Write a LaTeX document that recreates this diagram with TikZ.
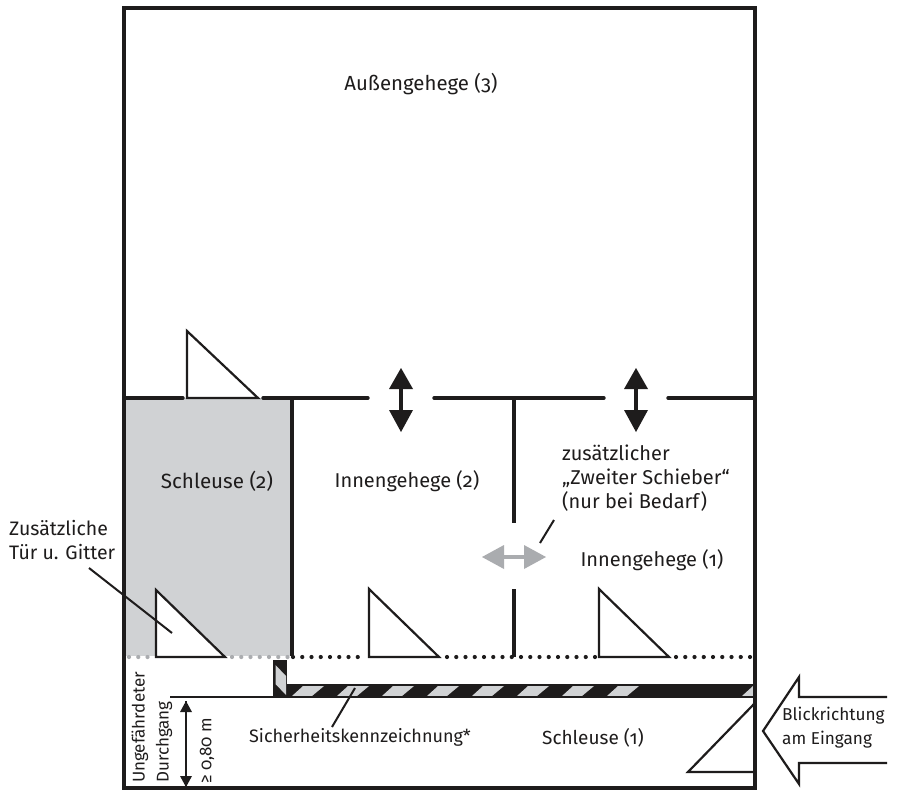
\documentclass[tikz,border=0pt]{standalone}
\usepackage{fontspec}
\setmainfont[Numbers=OldStyle]{Fira Sans}
\definecolor{lgrey}{RGB}{208,210,212}
\definecolor{mgrey}{RGB}{170,172,175}
\definecolor{ink}{RGB}{30,28,28}
\tikzset{
  wall/.style={draw=ink,line width=3.4pt,line cap=round},
  door/.style={draw=ink,line width=2.2pt,fill=white,line join=miter},
  dots/.style={draw=ink,line width=4.2pt,line cap=round,dash pattern=on 0pt off 9.25pt},
  greydots/.style={dots,draw=mgrey},
  thinl/.style={draw=ink,line width=2pt},
  arrowhead/.style={fill=ink,draw=none},
  label/.style={inner sep=0pt,text=ink,font=\fontsize{20}{24}\selectfont,align=center},
  leftlabel/.style={label,align=left},
  vlabel/.style={label,rotate=90,anchor=west},
  hazard/.style={fill=lgrey,draw=none}
}
\begin{document}
\begin{tikzpicture}[x=1pt,y=-1pt]
\useasboundingbox (0,0) rectangle (897,790);
\fill[white] (0,0) rectangle (897,790);
% grey lock
\fill[lgrey] (124,398) rectangle (292,656);
% barrier
\fill[ink] (273,660) rectangle (287,697);
\fill[ink] (287,683.5) rectangle (755,697.5);
\fill[hazard] (275.5,665) -- (286,676) -- (286,695) -- (275.5,684) -- cycle;
\foreach \k in {0,...,7}{
  \fill[hazard] ({292+45*\k},696) -- ({303+45*\k},686) -- ({324+45*\k},686) -- ({312+45*\k},696) -- cycle;
}
\fill[hazard] (742,696) -- (753,686) -- (753,696) -- cycle;
\draw[thinl] (170,697) -- (755,697);
% dotted line
\draw[greydots] (129,657) -- (152,657);
\draw[greydots] (232,657) -- (288,657);
\draw[dots] (293,657) -- (365,657);
\draw[dots] (447,657) -- (596,657);
\draw[dots] (676,657) -- (755,657);
% walls
\coordinate (tl) at (124,8); \coordinate (tr) at (755,8);
\coordinate (br) at (755,788); \coordinate (bl) at (124,788);
\draw[wall,line cap=butt,line join=miter] (tl) -- (tr) -- (br) -- (bl) -- cycle;
\draw[wall] (125,398) -- (183,398);
\draw[wall] (263,398) -- (368,398);
\draw[wall] (434,398) -- (604,398);
\draw[wall] (668,398) -- (755,398);
\draw[wall,line cap=butt] (292,398) -- (292,656);
\draw[wall,line cap=butt] (514,398) -- (514,523);
\draw[wall,line cap=butt] (514,589) -- (514,657);
% doors
\draw[door] (187,331) -- (187,398) -- (258,398) -- cycle;
\draw[door] (156,590) -- (156,657) -- (225,657) -- cycle;
\draw[door] (369,589) -- (369,657) -- (439,657) -- cycle;
\draw[door] (599,589) -- (599,657) -- (669,657) -- cycle;
\draw[door,fill=none] (754,704) -- (688,772) -- (754,772);
% double arrows
\foreach \x in {401,636}{
  \fill[arrowhead] (\x,368) -- ({\x+12},389) -- ({\x-12},389) -- cycle;
  \fill[arrowhead] (\x,432) -- ({\x+12},410) -- ({\x-12},410) -- cycle;
  \fill[arrowhead] ({\x-2},388) rectangle ({\x+2},411);
}
\fill[mgrey] (482,557) -- (504,545) -- (504,569) -- cycle;
\fill[mgrey] (546,557) -- (524,545) -- (524,569) -- cycle;
\fill[mgrey] (503,555) rectangle (525,559);
% dimension arrow
\coordinate (d1) at (186,701); \coordinate (d2) at (186,787);
\draw[thinl] (d1) -- (d2);
\fill[arrowhead] (d1) -- ++(6,11) -- ++(-12,0) -- cycle;
\fill[arrowhead] (d2) -- ++(6,-11) -- ++(-12,0) -- cycle;
% view arrow
\draw[draw=ink,line width=2.2pt,line join=miter] (887,697) -- (799,697) -- (799,677) -- (763,731) -- (799,784) -- (799,763) -- (887,763);
% labels
\node[label,font=\fontsize{20.4}{24}\selectfont] (aussen) at (421,84) {Außengehege (3)};
\node[label,font=\fontsize{20.6}{24}\selectfont] (schl2) at (217,481) {Schleuse (2)};
\node[label] (inn2) at (407,481) {Innengehege (2)};
\node[leftlabel,anchor=north west] (zweiter) at (562,445) {zusätzlicher\\„Zweiter Schieber“\\(nur bei Bedarf)};
\node[label] (inn1) at (652,560) {Innengehege (1)};
\node[leftlabel,anchor=west,font=\fontsize{19.5}{24}\selectfont] (tuer) at (9,540) {Zusätzliche\\Tür u. Gitter};
\node[label,font=\fontsize{18}{24}\selectfont] (sicher) at (360,737) {Sicherheitskennzeichnung*};
\node[label,font=\fontsize{19}{24}\selectfont] (schl1) at (593,738) {Schleuse (1)};
\node[leftlabel,anchor=west,font=\fontsize{17.2}{24}\selectfont] (blick) at (782,728) {Blickrichtung\\am Eingang};
\node[vlabel,font=\fontsize{17}{18}\selectfont] (unge) at (140,783) {Ungefährdeter};
\node[vlabel,font=\fontsize{17}{18}\selectfont] (durch) at (164,783) {Durchgang};
\node[vlabel,font=\fontsize{17}{18}\selectfont] (dim) at (207,784) {≥ 0,80 m};
% leaders
\coordinate (p1) at (554,520); \coordinate (p2) at (540,543);
\draw[thinl] (p1) -- (p2);
\coordinate (p3) at (89,568); \coordinate (p4) at (172,633);
\draw[thinl] (p3) -- (p4);
\coordinate (p5) at (355,688); \coordinate (p6) at (332,727);
\draw[thinl] (p5) -- (p6);
\end{tikzpicture}
\end{document}
